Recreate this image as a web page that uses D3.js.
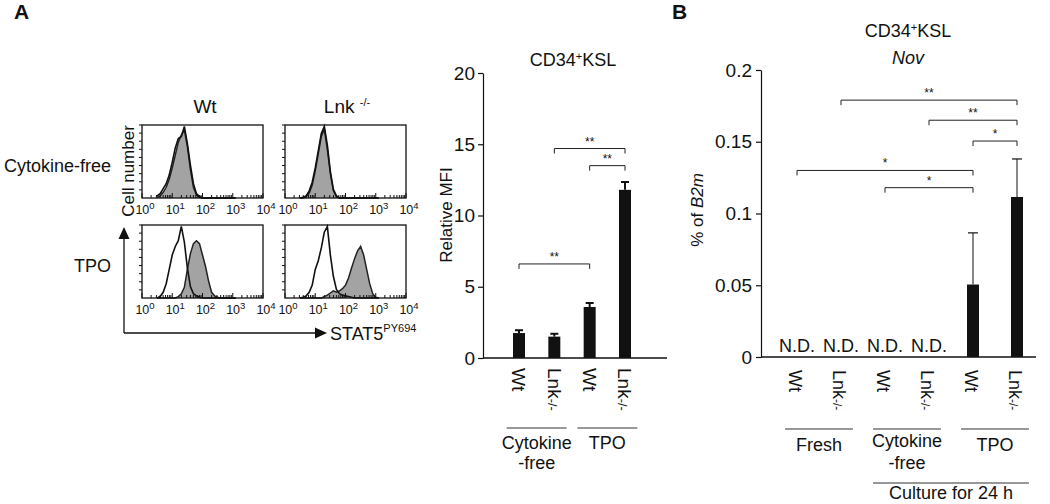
<!DOCTYPE html>
<html><head><meta charset="utf-8">
<script src="https://cdn.jsdelivr.net/npm/d3@7"></script>
<style>
body{margin:0;background:#fff}
svg{font-family:"Liberation Sans",Arial,Helvetica,sans-serif;fill:#111}
</style>
</head><body>
<svg id="c" width="1050" height="504"></svg>
<script>
// ---------- DATA ----------
// flow histograms: bin centres in log10(fluorescence), normalised cell counts
const histBins = [0.5,0.6,0.7,0.8,0.9,1.0,1.1,1.2,1.3,1.4,1.5,1.6,1.7,1.8,1.9,2.0,2.1,2.2,2.3,2.4,2.5,2.6,2.7,2.8,2.9,3.0,3.1];
const histWtFreeFilled  = [0.01,0.03,0.08,0.15,0.26,0.42,0.60,0.78,0.88,0.95,0.72,0.40,0.15,0.04,0.01,0,0,0,0,0,0,0,0,0,0,0,0];
const histWtFreeOpen    = [0.03,0.06,0.13,0.20,0.32,0.50,0.70,0.83,0.86,1.00,0.76,0.46,0.20,0.06,0.02,0,0,0,0,0,0,0,0,0,0,0,0];
const histLnkFreeFilled = [0,0,0.02,0.07,0.18,0.38,0.62,0.86,0.96,0.68,0.34,0.10,0.02,0,0,0,0,0,0,0,0,0,0,0,0,0,0];
const histLnkFreeOpen   = [0,0.01,0.03,0.10,0.22,0.42,0.66,0.90,1.00,0.74,0.37,0.12,0.03,0,0,0,0,0,0,0,0,0,0,0,0,0,0];
const histWtTpoOpen     = [0,0.02,0.08,0.20,0.40,0.60,0.72,0.80,1.00,0.78,0.42,0.16,0.06,0.03,0.01,0,0,0,0,0,0,0,0,0,0,0,0];
const histWtTpoFilled   = [0,0,0,0,0,0,0,0.02,0.06,0.15,0.40,0.62,0.76,0.80,0.76,0.60,0.44,0.24,0.08,0.03,0.01,0,0,0,0,0,0];
const histLnkTpoOpen    = [0,0.01,0.03,0.08,0.18,0.40,0.52,0.70,0.92,1.00,0.60,0.30,0.12,0.06,0.04,0.03,0.02,0.01,0,0,0,0,0,0,0,0,0];
const histLnkTpoFilled  = [0,0,0,0,0,0,0,0,0.02,0.04,0.07,0.10,0.08,0.10,0.13,0.18,0.28,0.42,0.55,0.66,0.72,0.60,0.40,0.20,0.06,0.01,0];
const histDecades = [1,10,100,1000,10000];
const histDecadeExp = ["0","1","2","3","4"];

// Panel A bar chart: relative MFI
const mfiCategories = ["free-Wt","free-Lnk","tpo-Wt","tpo-Lnk"];
const mfiValues = [1.75, 1.5, 3.58, 11.8];
const mfiErrors = [0.2, 0.2, 0.28, 0.55];
const mfiTicks = [0,5,10,15,20];
const mfiBrackets = [[0,2,6.6,"**"],[1,3,14.7,"**"],[2,3,13.5,"**"]];
const mfiGroups = [["Cytokine","-free"],["TPO"]];

// Panel B bar chart: Nov % of B2m
const novCategories = ["fresh-Wt","fresh-Lnk","free-Wt","free-Lnk","tpo-Wt","tpo-Lnk"];
const novValues = [null,null,null,null,0.0505,0.1115];
const novErrors = [null,null,null,null,0.036,0.0265];
const novTicks = [0,0.05,0.1,0.15,0.2];
const novTickLabels = ["0","0.05","0.1","0.15","0.2"];
const novBrackets = [[1,5,0.179,"**"],[3,5,0.165,"**"],[4,5,0.1505,"*"],[0,4,0.130,"*"],[2,4,0.118,"*"]];
const novGroups = [["Fresh"],["Cytokine","-free"],["TPO"]];
const genotypes = ["Wt","Lnk"];

// ---------- DRAW ----------
const svg = d3.select("#c");
const FS = 18;

function lnkText(sel, size, supSize){
  sel.append("tspan").text("Lnk");
  sel.append("tspan").attr("font-size", supSize).text("-/-");
}

// panel letters
svg.append("text").attr("x",14).attr("y",19).attr("font-size",21).attr("font-weight","bold").text("A");
svg.append("text").attr("x",672).attr("y",19).attr("font-size",21).attr("font-weight","bold").text("B");

// ---- histograms ----
const histPanels = [
  {x:142,y:125,open:histWtFreeOpen,filled:histWtFreeFilled},
  {x:285,y:125,open:histLnkFreeOpen,filled:histLnkFreeFilled},
  {x:142,y:225,open:histWtTpoOpen,filled:histWtTpoFilled},
  {x:285,y:225,open:histLnkTpoOpen,filled:histLnkTpoFilled}
];
const hW = 121, hH = 73;
histPanels.forEach(p=>{
  const g = svg.append("g").attr("transform",`translate(${p.x},${p.y})`);
  const hx = d3.scaleLog().domain([1,10000]).range([0,hW]);
  const hy = d3.scaleLinear().domain([0,1.02]).range([hH,0]);
  const area = d3.area().x(d=>hx(Math.pow(10,d[0]))).y0(hH).y1(d=>hy(d[1])).curve(d3.curveLinear);
  const line = d3.line().x(d=>hx(Math.pow(10,d[0]))).y(d=>hy(d[1])).curve(d3.curveLinear);
  const fd = histBins.map((b,i)=>[b,p.filled[i]]);
  const od = histBins.map((b,i)=>[b,p.open[i]]);
  g.append("path").datum(fd).attr("d",area).attr("fill","#a3a3a3").attr("stroke","none");
  g.append("path").datum(fd).attr("d",line).attr("fill","none").attr("stroke","#222").attr("stroke-width",1.5);
  g.append("path").datum(od).attr("d",line).attr("fill","none").attr("stroke","#111").attr("stroke-width",1.6);
  g.append("rect").attr("width",hW).attr("height",hH).attr("fill","none").attr("stroke","#111").attr("stroke-width",1.3);
  // left ticks
  const yt = d3.range(1,10).map(i=>i/9*1.02);
  g.selectAll(".yt").data(yt).enter().append("line")
    .attr("x1",-3).attr("x2",0).attr("y1",d=>hy(d)).attr("y2",d=>hy(d)).attr("stroke","#111");
  // bottom log ticks
  const minor = [];
  histDecades.slice(0,4).forEach(dc=>{for(let k=2;k<=9;k++)minor.push(dc*k);});
  g.selectAll(".mt").data(minor).enter().append("line")
    .attr("x1",d=>hx(d)).attr("x2",d=>hx(d)).attr("y1",hH).attr("y2",hH-3).attr("stroke","#111");
  g.selectAll(".Mt").data(histDecades).enter().append("line")
    .attr("x1",d=>hx(d)).attr("x2",d=>hx(d)).attr("y1",hH).attr("y2",hH-5).attr("stroke","#111");
  const lab = g.selectAll(".hl").data(histDecades).enter().append("text")
    .attr("x",d=>hx(d)+3).attr("y",hH+16).attr("text-anchor","middle").attr("font-size",12.5);
  lab.append("tspan").text("10");
  lab.append("tspan").attr("font-size",9.5).attr("dy",-5).text((d,i)=>histDecadeExp[i]);
});
// column & row headers
svg.append("text").attr("x",205).attr("y",113).attr("text-anchor","middle").attr("font-size",FS+1).text("Wt");
const lh = svg.append("text").attr("x",347).attr("y",113).attr("text-anchor","middle").attr("font-size",FS+1);
lh.append("tspan").text("Lnk ");
lh.append("tspan").attr("font-size",11).attr("dy",-7).text("-/-");
svg.append("text").attr("x",111).attr("y",172).attr("text-anchor","end").attr("font-size",FS).text("Cytokine-free");
svg.append("text").attr("x",111).attr("y",272).attr("text-anchor","end").attr("font-size",FS).text("TPO");
svg.append("text").attr("transform","translate(134,171) rotate(-90)").attr("text-anchor","middle").attr("font-size",FS-1).text("Cell number");
// arrows
svg.append("path").attr("d","M124,333 V236 M124,333 H316").attr("stroke","#111").attr("stroke-width",1.3).attr("fill","none");
svg.append("path").attr("d","M124,227 L118.5,239 L129.5,239 Z").attr("fill","#111");
svg.append("path").attr("d","M327,333 L315,327.5 L315,338.5 Z").attr("fill","#111");
const st = svg.append("text").attr("x",330).attr("y",340).attr("font-size",FS);
st.append("tspan").text("STAT5");
st.append("tspan").attr("font-size",11).attr("dy",-8).text("PY694");

// ---- Panel A bar chart ----
const yA = d3.scaleLinear().domain([0,20]).range([358,73]);
const xA = d3.scalePoint().domain(mfiCategories).range([519,625]);
const gA = svg.append("g");
gA.append("g").attr("transform","translate(483,0)")
  .call(d3.axisLeft(yA).tickValues(mfiTicks).tickSize(5).tickSizeOuter(0).tickPadding(3))
  .call(a=>{a.selectAll("text").attr("font-size",FS+1).attr("font-family","inherit").attr("fill","#111");
            a.selectAll("line,path").attr("stroke","#111").attr("stroke-width",1.2);});
gA.append("line").attr("x1",483).attr("x2",667).attr("y1",yA(0)).attr("y2",yA(0)).attr("stroke","#111").attr("stroke-width",1.3);
const bwA = 12;
mfiCategories.forEach((c,i)=>{
  const x = xA(c), v = mfiValues[i], e = mfiErrors[i];
  gA.append("line").attr("x1",x).attr("x2",x).attr("y1",yA(v)).attr("y2",yA(v+e)).attr("stroke","#111").attr("stroke-width",2);
  gA.append("line").attr("x1",x-4).attr("x2",x+4).attr("y1",yA(v+e)).attr("y2",yA(v+e)).attr("stroke","#111").attr("stroke-width",2);
  gA.append("rect").attr("x",x-bwA/2).attr("y",yA(v)).attr("width",bwA).attr("height",yA(0)-yA(v)).attr("fill","#111");
  const t = gA.append("text").attr("transform",`translate(${x},368) rotate(90)`).attr("dy","0.35em").attr("font-size",FS+1);
  if(i%2===0) t.text("Wt"); else lnkText(t, FS+1, 13);
});
mfiBrackets.forEach(([a,b,v,s])=>{
  const x1 = xA(mfiCategories[a]), x2 = xA(mfiCategories[b]), y = yA(v);
  gA.append("path").attr("d",`M${x1},${y+5}V${y}H${x2}V${y+5}`).attr("fill","none").attr("stroke","#222").attr("stroke-width",1);
  gA.append("text").attr("x",(x1+x2)/2).attr("y",y-3).attr("text-anchor","middle").attr("font-size",12).text(s);
});
svg.append("text").attr("transform","translate(452,215) rotate(-90)").attr("text-anchor","middle").attr("font-size",FS-1).text("Relative MFI");
const tA = svg.append("text").attr("x",573).attr("y",66).attr("text-anchor","middle").attr("font-size",FS);
tA.append("tspan").text("CD34");
tA.append("tspan").attr("font-size",11).attr("dy",-6).text("+");
tA.append("tspan").attr("dy",6).text("KSL");
mfiGroups.forEach((lbl,gi)=>{
  const cx = (xA(mfiCategories[gi*2]) + xA(mfiCategories[gi*2+1]))/2;
  gA.append("line").attr("x1",cx-30).attr("x2",cx+30).attr("y1",428).attr("y2",428).attr("stroke","#333").attr("stroke-width",1.2);
  lbl.forEach((l,k)=>gA.append("text").attr("x",cx).attr("y",449+k*20).attr("text-anchor","middle").attr("font-size",FS).text(l));
});

// ---- Panel B bar chart ----
const yB = d3.scaleLinear().domain([0,0.2]).range([357,70]);
const xB = d3.scalePoint().domain(novCategories).range([797,1017]);
const gB = svg.append("g");
gB.append("g").attr("transform","translate(761,0)")
  .call(d3.axisLeft(yB).tickValues(novTicks).tickFormat((d,i)=>novTickLabels[i]).tickSize(5).tickSizeOuter(0).tickPadding(4))
  .call(a=>{a.selectAll("text").attr("font-size",FS+1).attr("font-family","inherit").attr("fill","#111");
            a.selectAll("line,path").attr("stroke","#111").attr("stroke-width",1.2);});
gB.append("line").attr("x1",761).attr("x2",1036).attr("y1",yB(0)).attr("y2",yB(0)).attr("stroke","#111").attr("stroke-width",1.3);
const bwB = 12;
novCategories.forEach((c,i)=>{
  const x = xB(c), v = novValues[i], e = novErrors[i];
  if(v===null){
    gB.append("text").attr("x",x).attr("y",352).attr("text-anchor","middle").attr("font-size",FS).text("N.D.");
  } else {
    gB.append("line").attr("x1",x).attr("x2",x).attr("y1",yB(v)).attr("y2",yB(v+e)).attr("stroke","#111").attr("stroke-width",1);
    gB.append("line").attr("x1",x-5).attr("x2",x+5).attr("y1",yB(v+e)).attr("y2",yB(v+e)).attr("stroke","#111").attr("stroke-width",1.2);
    gB.append("rect").attr("x",x-bwB/2).attr("y",yB(v)).attr("width",bwB).attr("height",yB(0)-yB(v)).attr("fill","#111");
  }
  const t = gB.append("text").attr("transform",`translate(${x-2},370) rotate(90)`).attr("dy","0.35em").attr("font-size",FS);
  if(i%2===0) t.text(genotypes[0]); else lnkText(t, FS, 12);
});
novBrackets.forEach(([a,b,v,s])=>{
  const x1 = xB(novCategories[a]), x2 = xB(novCategories[b]), y = yB(v);
  gB.append("path").attr("d",`M${x1},${y+5}V${y}H${x2}V${y+5}`).attr("fill","none").attr("stroke","#222").attr("stroke-width",1);
  gB.append("text").attr("x",(x1+x2)/2).attr("y",y-3).attr("text-anchor","middle").attr("font-size",12).text(s);
});
const yl = svg.append("text").attr("transform","translate(703,210) rotate(-90)").attr("text-anchor","middle").attr("font-size",FS-1);
yl.append("tspan").text("% of ");
yl.append("tspan").attr("font-style","italic").text("B2m");
const tB = svg.append("text").attr("x",908).attr("y",37).attr("text-anchor","middle").attr("font-size",FS);
tB.append("tspan").text("CD34");
tB.append("tspan").attr("font-size",11).attr("dy",-6).text("+");
tB.append("tspan").attr("dy",6).text("KSL");
svg.append("text").attr("x",908).attr("y",64).attr("text-anchor","middle").attr("font-size",FS).attr("font-style","italic").text("Nov");
novGroups.forEach((lbl,gi)=>{
  const cx = (xB(novCategories[gi*2]) + xB(novCategories[gi*2+1]))/2;
  gB.append("line").attr("x1",cx-34).attr("x2",cx+34).attr("y1",429).attr("y2",429).attr("stroke","#333").attr("stroke-width",1.2);
  lbl.forEach((l,k)=>gB.append("text").attr("x",cx).attr("y",(lbl.length>1?447:451)+k*22).attr("text-anchor","middle").attr("font-size",FS).text(l));
});
{
  const c1 = (xB(novCategories[2])+xB(novCategories[3]))/2 - 34;
  const c2 = (xB(novCategories[4])+xB(novCategories[5]))/2 + 34;
  gB.append("line").attr("x1",c1).attr("x2",c2).attr("y1",483).attr("y2",483).attr("stroke","#333").attr("stroke-width",1.2);
  gB.append("text").attr("x",(c1+c2)/2).attr("y",499).attr("text-anchor","middle").attr("font-size",FS).text("Culture for 24 h");
}
</script>
</body></html>
